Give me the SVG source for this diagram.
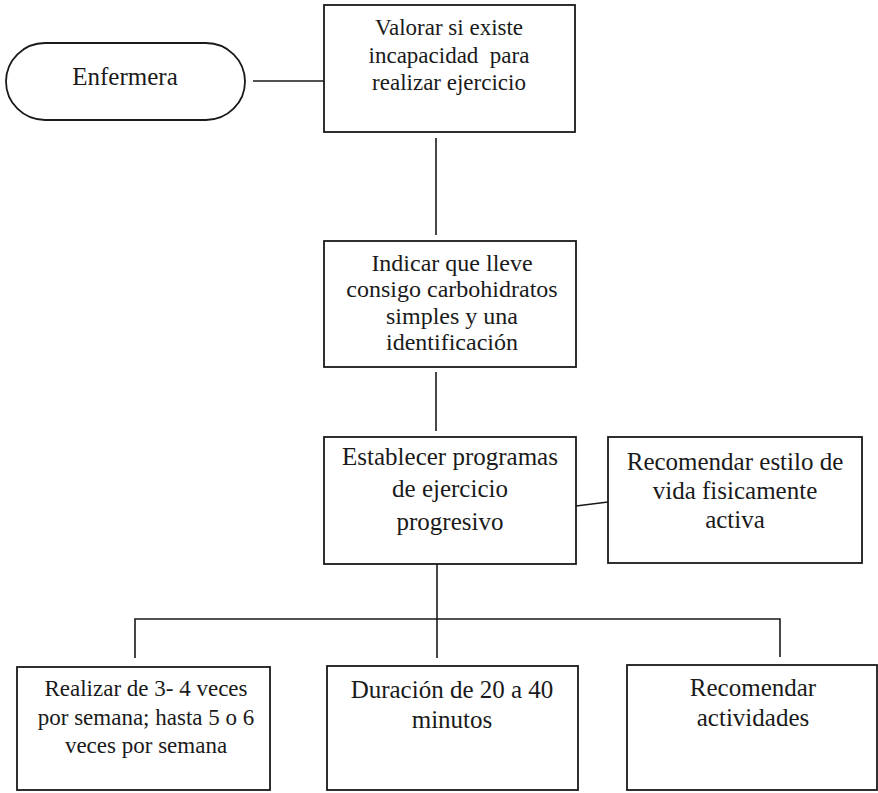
<svg xmlns="http://www.w3.org/2000/svg" width="878" height="793" viewBox="0 0 878 793" font-family="Liberation Serif, Times New Roman, DejaVu Serif, serif">
  <style>
    .box { fill: #ffffff; stroke: #1a1a1a; stroke-width: 1.8; }
    .wire { fill: none; stroke: #1a1a1a; stroke-width: 1.6; }
    .lbl { fill: #1a1a1a; text-anchor: middle; }
    .t23 { font-size: 23px; }
    .t24 { font-size: 24px; }
    .t25 { font-size: 25px; }
  </style>
  <rect width="878" height="793" fill="#ffffff"/>

  <!-- connectors -->
  <g id="connectors" class="wire">
    <line x1="253" y1="81" x2="324" y2="81"/>
    <line x1="436" y1="138" x2="436" y2="235"/>
    <line x1="436" y1="372" x2="436" y2="431"/>
    <line x1="576" y1="506" x2="608" y2="502"/>
    <line x1="437" y1="564" x2="437" y2="619"/>
    <polyline points="135,658 135,619 780,619 780,657"/>
    <line x1="437" y1="619" x2="437" y2="658"/>
  </g>

  <!-- actor -->
  <g id="enfermera">
    <rect class="box" x="6" y="43" width="239" height="77" rx="39" ry="38.5"/>
    <text class="lbl t25" font-family="Liberation Serif" x="125" y="85">Enfermera</text>
  </g>

  <g id="valorar">
    <rect class="box" x="324" y="5" width="251" height="127"/>
    <text class="lbl t23" font-family="Liberation Serif" x="449" y="35">Valorar si existe</text>
    <text class="lbl t23" font-family="Liberation Serif" x="449" y="63" xml:space="preserve">incapacidad  para</text>
    <text class="lbl t23" font-family="Liberation Serif" x="449" y="90">realizar ejercicio</text>
  </g>

  <g id="indicar">
    <rect class="box" x="324" y="241" width="252" height="126"/>
    <text class="lbl t24" font-family="Liberation Serif" x="452" y="271">Indicar que lleve</text>
    <text class="lbl t24" font-family="Liberation Serif" x="452" y="297">consigo carbohidratos</text>
    <text class="lbl t24" font-family="Liberation Serif" x="452" y="324">simples y una</text>
    <text class="lbl t24" font-family="Liberation Serif" x="452" y="350">identificación</text>
  </g>

  <g id="establecer">
    <rect class="box" x="324" y="437" width="252" height="127"/>
    <text class="lbl t25" font-family="Liberation Serif" x="450" y="465">Establecer programas</text>
    <text class="lbl t25" font-family="Liberation Serif" x="450" y="497">de ejercicio</text>
    <text class="lbl t25" font-family="Liberation Serif" x="450" y="530">progresivo</text>
  </g>

  <g id="recomendar-estilo">
    <rect class="box" x="608" y="437" width="254" height="126"/>
    <text class="lbl t25" font-family="Liberation Serif" x="735" y="470">Recomendar estilo de</text>
    <text class="lbl t25" font-family="Liberation Serif" x="735" y="499">vida fisicamente</text>
    <text class="lbl t25" font-family="Liberation Serif" x="735" y="528">activa</text>
  </g>

  <g id="frecuencia">
    <rect class="box" x="17" y="667" width="253" height="123"/>
    <text class="lbl t23" font-family="Liberation Serif" x="146" y="696">Realizar de 3- 4 veces</text>
    <text class="lbl t23" font-family="Liberation Serif" x="146" y="725">por semana; hasta 5 o 6</text>
    <text class="lbl t23" font-family="Liberation Serif" x="146" y="753">veces por semana</text>
  </g>

  <g id="duracion">
    <rect class="box" x="327" y="666" width="251" height="124"/>
    <text class="lbl t25" font-family="Liberation Serif" x="452" y="698">Duración de 20 a 40</text>
    <text class="lbl t25" font-family="Liberation Serif" x="452" y="728">minutos</text>
  </g>

  <g id="actividades">
    <rect class="box" x="627" y="665" width="250" height="125"/>
    <text class="lbl t25" font-family="Liberation Serif" x="753" y="696">Recomendar</text>
    <text class="lbl t25" font-family="Liberation Serif" x="753" y="726">actividades</text>
  </g>
</svg>
